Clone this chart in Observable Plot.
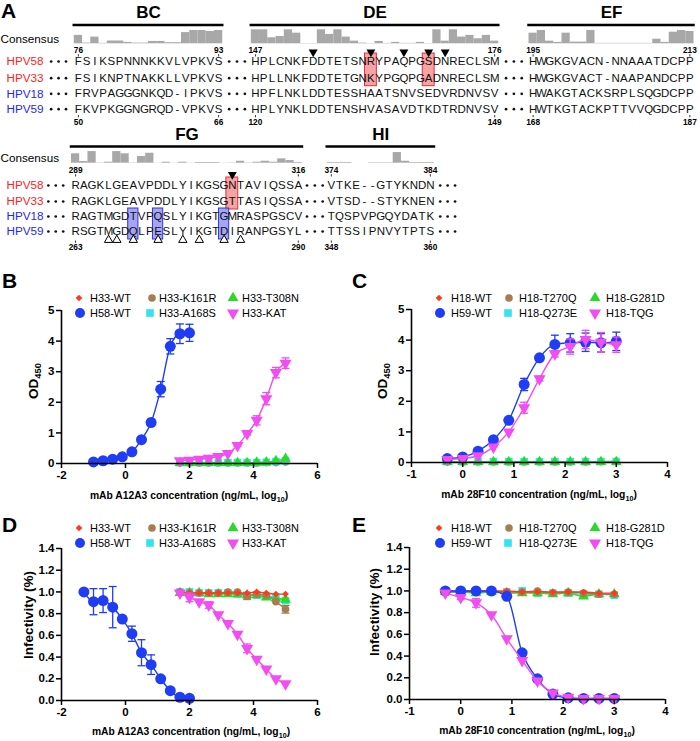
<!DOCTYPE html>
<html><head><meta charset="utf-8">
<script src="https://cdn.jsdelivr.net/npm/d3@7"></script>
<script src="https://cdn.jsdelivr.net/npm/@observablehq/plot@0.6"></script>
<style>
body{margin:0;background:#fff;font-family:"Liberation Sans",Arial,Helvetica,sans-serif;}
#root{position:relative;width:700px;height:741px;overflow:hidden;background:#fff;}
#root svg{position:absolute;}
.plabel{position:absolute;font-weight:bold;font-size:21px;line-height:1;}
.xlab{position:absolute;font-weight:bold;font-size:10.3px;line-height:12px;transform:translateX(-50%);white-space:nowrap;}
.ylab{position:absolute;font-weight:bold;font-size:13.5px;line-height:14px;white-space:nowrap;transform:translate(-50%,-50%) rotate(-90deg);}
.leg{position:absolute;font-size:11px;line-height:14px;white-space:nowrap;}
sub{font-size:70%;vertical-align:-3px;line-height:0;}
</style></head>
<body><div id="root"></div>
<script>
// ================= PANEL A DATA =================
const strains = ["HPV58","HPV33","HPV18","HPV59"];
const regionNames = ["BC","DE","EF","FG","HI"];
const seqBC = ["FSIKSPNNNKKVLVPKVS","FSIKNPTNAKKLLVPKVS","FRVPAGGGNKQD-IPKVS","FKVPKGGNGRQD-VPKVS"];
const seqDE = ["HPLCNKFDDTETSNRYPAQPGSDNRECLSM","HPLLNKFDDTETGNKYPGQPGADNRECLSM","HPFLNKLDDTESSHAATSNVSEDVRDNVSV","HPLYNKLDDTENSHVASAVDTKDTRDNVSV"];
const seqEF = ["HWGKGVACN-NNAAATDCPP","HWGKGVACT-NAAPANDCPP","HWAKGTACKSRPLSQGDCPP","HWTKGTACKPTTVVQGDCPP"];
const seqFG = ["RAGKLGEAVPDDLYIKGSGNTAVIQSSA","RAGKLGEAVPDDLYIKGSGTTASIQSSA","RAGTMGDTVPQSLYIKGTGMRASPGSCV","RSGTMGDQLPESLYIKGTDIRANPGSYL"];
const seqHI = ["VTKE--GTYKNDN","VTSD--STYKNEN","TQSPVPGQYDATK","TTSSIPNVYTPTS"];
const consBC = [0.6,0.05,0.48,0.03,0.2,0.2,0.1,0.05,0.05,0.17,0.17,0.08,0.08,0.8,0.95,0.95,0.88,0.95];
const consDE = [1,1,0.43,0.52,1,0.76,0.02,0.02,1,0.67,1,0.48,0.19,0.05,0.02,0.17,0.03,0.1,0.03,0.03,0.1,0.02,1,0.19,1,0.48,0.6,0.36,0.6,0.19];
const consEF = [0.76,0.95,0.19,0.1,0.76,0.12,0.12,0.95,0.03,0.03,0.03,0.03,0.03,0.03,0.03,0.33,0.1,0.83,0.95,0.88];
const consFG = [0.67,0.12,0.83,0.02,0.07,0.83,0.67,0.02,0.48,0.71,0.01,0.07,0.01,0.07,0.01,0.05,0.05,0.05,0.01,0.02,0.14,0.02,0.07,0.14,0.07,0.31,0.19,0.05];
const consHI = [0.05,0.05,0.05,0,0,0.03,0.03,0.03,0.76,0.14,0.05,0.05,0.05];
const topNums = [[76,93],[147,176],[195,213],[289,316],[374,384]];
const botNums = [[50,66],[120,149],[168,187],[263,290],[348,360]];
const filledMarks = [[],[7,14,18,21,23],[],[19],[]];
const openMarks = [[],[],[],[4,5,7,10,13,15,18,20],[]];
const redCols = [[],[14,21],[],[19],[]];
const blueCols = [[],[],[],[7,10,18],[]];

// ================= PANELS B-E DATA =================
const bH58X = [-1.0,-0.7,-0.4,-0.1,0.2,0.5,0.8,1.1,1.4,1.7,2.0];
const bH58Y = [0.05,0.09,0.14,0.22,0.38,0.78,1.34,2.43,3.83,4.24,4.27];
const bH58E = [0,0,0,0,0,0.04,0.06,0.25,0.25,0.32,0.28];
const bMutX = [1.7,2.0,2.3,2.6,2.9,3.2,3.5,3.8,4.1,4.4,4.7,5.0];
const bWT    = [0.02,0.02,0.02,0.02,0.02,0.02,0.02,0.02,0.02,0.02,0.03,0.04];
const bK161R = [0.02,0.02,0.02,0.02,0.02,0.02,0.02,0.02,0.02,0.03,0.03,0.05];
const bT308N = [0.02,0.02,0.02,0.02,0.02,0.02,0.02,0.02,0.03,0.04,0.08,0.16];
const bA168S = [0.03,0.03,0.03,0.03,0.03,0.03,0.03,0.03,0.03,0.04,0.06,0.09];
const bKAT   = [0.09,0.11,0.14,0.17,0.23,0.33,0.59,0.98,1.41,2.12,2.97,3.28];
const bKATE  = [0,0,0,0,0,0,0.04,0.05,0.15,0.2,0.17,0.17];

const cX = [-0.3,0,0.3,0.6,0.9,1.2,1.5,1.8,2.1,2.4,2.7,3.0];
const cWT    = [0.02,0.02,0.02,0.02,0.02,0.02,0.02,0.02,0.02,0.02,0.02,0.02];
const cH59   = [0.13,0.18,0.37,0.74,1.38,2.55,3.42,3.86,3.91,3.93,3.91,3.96];
const cH59E  = [0,0,0,0,0.05,0.2,0.05,0.3,0.3,0.3,0.3,0.3];
const cT270Q = [0.02,0.02,0.02,0.02,0.02,0.02,0.02,0.02,0.02,0.02,0.03,0.04];
const cQ273E = [0.03,0.03,0.03,0.03,0.03,0.03,0.03,0.03,0.03,0.03,0.03,0.03];
const cG281D = [0.02,0.02,0.02,0.02,0.02,0.02,0.02,0.02,0.02,0.02,0.02,0.02];
const cTQG   = [0.1,0.13,0.22,0.51,1.0,1.79,2.74,3.55,3.79,4.02,3.93,3.85];
const cTQGE  = [0,0,0,0,0,0.18,0.08,0.1,0.25,0.3,0.32,0.25];

const dH58X = [-1.3,-1.0,-0.7,-0.4,-0.1,0.2,0.5,0.8,1.1,1.4,1.7,2.0];
const dH58Y = [1.0,0.91,0.92,0.86,0.75,0.615,0.44,0.33,0.2,0.09,0.03,0.02];
const dH58E = [0,0.12,0.11,0.19,0,0.07,0.12,0.09,0,0,0,0];
const dWT    = [1.0,0.99,0.99,0.99,0.99,0.99,0.99,0.99,1.0,0.99,0.98,0.98];
const dK161R = [1.0,0.99,0.99,0.99,0.99,1.0,1.0,0.96,0.98,0.97,0.91,0.84];
const dK161RE= [0,0,0,0,0,0,0,0.03,0,0,0,0.035];
const dT308N = [0.99,0.99,0.99,0.98,0.98,0.98,0.98,0.97,0.97,0.95,0.94,0.93];
const dA168S = [1.0,1.0,0.99,0.99,0.99,0.99,0.98,0.97,0.97,0.96,0.95,0.92];
const dKAT   = [0.99,0.95,0.91,0.88,0.79,0.71,0.61,0.48,0.38,0.29,0.2,0.155];
const dKATE  = [0,0.04,0,0.03,0,0,0,0.04,0,0,0,0];

const eWT    = [0.99,1.0,1.0,1.0,1.0,0.99,0.99,0.99,0.99,0.99,0.98,0.98];
const eT270Q = [1.0,0.99,1.0,0.99,0.99,0.99,1.0,0.98,0.99,0.98,0.97,0.97];
const eG281D = [0.99,0.99,0.98,0.99,0.98,0.98,0.98,0.97,0.98,0.95,0.97,0.97];
const eQ273E = [0.99,0.99,0.99,0.99,0.99,1.0,0.98,0.98,0.98,0.97,0.97,0.96];
const eH59   = [1.0,1.0,1.0,1.0,0.95,0.43,0.19,0.05,0.015,0.01,0.01,0.01];
const eTQG   = [0.98,0.94,0.89,0.78,0.56,0.36,0.17,0.06,0.02,0.01,0.01,0.01];
const eTQGE  = [0,0.02,0.04,0,0,0,0,0,0,0,0,0];

const legendB = [["H33-WT","H33-K161R","H33-T308N"],["H58-WT","H33-A168S","H33-KAT"]];
const legendC = [["H18-WT","H18-T270Q","H18-G281D"],["H59-WT","H18-Q273E","H18-TQG"]];

// ================= STYLES / LAYOUT =================
const FONT = '"Liberation Sans", Arial, Helvetica, sans-serif';
const root = document.getElementById("root");
const triDown = {draw(ctx, size){ const s3=Math.sqrt(3); const y=-Math.sqrt(size/(s3*3)); ctx.moveTo(0,-y*2); ctx.lineTo(-s3*y,y); ctx.lineTo(s3*y,y); ctx.closePath(); }};
const capSym = {draw(ctx, size){ const w=Math.sqrt(size)/2; ctx.moveTo(-w,0); ctx.lineTo(w,0); }};
const SER = {
  wt:{color:"#ff3a1c",symbol:"diamond2",r:3},
  m1:{color:"#a67c52",symbol:"circle",r:3.8},
  m3:{color:"#27dc27",symbol:"triangle",r:4},
  ref:{color:"#1f3df5",symbol:"circle",r:5.5},
  m2:{color:"#33e3ef",symbol:"square",r:4.3},
  tri:{color:"#f24df0",symbol:triDown,r:4.5}
};
const strainColor = ["#ff2222","#ff2222","#2525ff","#2525ff"];

function place(el, left, top){ el.style.left = left+"px"; el.style.top = top+"px"; root.appendChild(el); return el; }
function div(cls, html){ const d=document.createElement("div"); d.className=cls; d.innerHTML=html; return d; }

// ================= PANEL A =================
const PITCH = 8.25;
const blockPlace = [{g:0,s:9.44},{g:0,s:30.9},{g:0,s:64.56},{g:1,s:9.1},{g:1,s:40.1}];
const G = [
  {title:12, line:24.5, base:43.3, cons:38.3, num:50, tri:51.5, rows:[61,77.7,93.3,108.7], bnum:121.5, otri:null},
  {title:134, line:146, base:162.7, cons:157.3, num:170, tri:174, rows:[185,201,216,231], bnum:247, otri:239.5}
];
const blockSeqs = [seqBC,seqDE,seqEF,seqFG,seqHI];
const blockCons = [consBC,consDE,consEF,consFG,consHI];
const letters=[], bars=[], lines=[], titles=[], nums=[], ticks=[], fTri=[], oTri=[], rBox=[], bBox=[], dots=[], labels=[];
regionNames.forEach((name,b)=>{
  const p=blockPlace[b], g=G[p.g], seqs=blockSeqs[b], n=seqs[0].length, end=p.s+n-1;
  titles.push({x:(p.s+end)/2, y:g.title, t:name});
  lines.push({x1:p.s-0.65, x2:end+0.65, y:g.line});
  blockCons[b].forEach((v,i)=>bars.push({x1:p.s+i-0.5, x2:p.s+i+0.5, y1:g.base, y2:g.base-v*14}));
  seqs.forEach((s,r)=>[...s].forEach((c,i)=>letters.push({x:p.s+i, y:g.rows[r], c})));
  [p.s,end].forEach((x,k)=>{
    nums.push({x, y:g.num, t:String(topNums[b][k])});
    ticks.push({x, y1:g.num+4.2, y2:g.num+6.5});
    nums.push({x, y:g.bnum, t:String(botNums[b][k])});
    ticks.push({x, y1:g.bnum-6.5, y2:g.bnum-4.2});
  });
  filledMarks[b].forEach(i=>fTri.push({x:p.s+i, y:g.tri}));
  openMarks[b].forEach(i=>oTri.push({x:p.s+i, y:g.otri}));
  redCols[b].forEach(i=>rBox.push({x1:p.s+i-0.72, x2:p.s+i+0.72, y1:g.rows[0]-8, y2:g.rows[1]+8}));
  blueCols[b].forEach(i=>bBox.push({x1:p.s+i-0.62, x2:p.s+i+0.62, y1:g.rows[2]-8, y2:g.rows[3]+8}));
});
G.forEach((g,gi)=>{
  labels.push({x:0, y:g.cons, t:"Consensus", fill:"#000"});
  strains.forEach((s,r)=>labels.push({x:0.72, y:g.rows[r], t:s, fill:strainColor[r]}));
  const blks = regionNames.map((n,b)=>({b,s:blockPlace[b].s,e:blockPlace[b].s+blockSeqs[b][0].length-1,g:blockPlace[b].g})).filter(d=>d.g===gi);
  const dotXs = [];
  dotXs.push(blks[0].s-3.3, blks[0].s-2.4, blks[0].s-1.5);
  for(let k=0;k<blks.length-1;k++){ const m=(blks[k].e+blks[k+1].s)/2; dotXs.push(m-0.95,m,m+0.95); }
  if(gi===1){ const e=blks[blks.length-1].e; dotXs.push(e+1.2,e+2.1,e+3.0); }
  g.rows.forEach(y=>dotXs.forEach(x=>dots.push({x,y})));
});

const plotA = Plot.plot({
  width:700, height:256, marginTop:0, marginBottom:0, marginLeft:0, marginRight:0,
  x:{domain:[0,700/PITCH], range:[0,700], axis:null},
  y:{domain:[0,256], range:[0,256], axis:null},
  style:{fontFamily:FONT, background:"transparent", overflow:"visible"},
  marks:[
    Plot.rect(bars,{x1:"x1",x2:"x2",y1:"y1",y2:"y2",fill:"#a8a8a8"}),
    Plot.ruleY(lines,{x1:"x1",x2:"x2",y:"y",stroke:"#000",strokeWidth:2.3}),
    Plot.text(titles,{x:"x",y:"y",text:"t",fontSize:17,fontWeight:"bold",fill:"#000"}),
    Plot.rect(rBox,{x1:"x1",x2:"x2",y1:"y1",y2:"y2",fill:"#f28c8c",fillOpacity:0.8,stroke:"#e52f3a",strokeWidth:1}),
    Plot.rect(bBox,{x1:"x1",x2:"x2",y1:"y1",y2:"y2",fill:"#8e8ef2",fillOpacity:0.8,stroke:"#3535d8",strokeWidth:1}),
    Plot.text(letters,{x:"x",y:"y",text:"c",fontSize:11.5,fill:"#111"}),
    Plot.text(labels,{x:"x",y:"y",text:"t",fill:"fill",textAnchor:"start",fontSize:11.7}),
    Plot.dot(dots,{x:"x",y:"y",r:1.35,fill:"#111"}),
    Plot.text(nums,{x:"x",y:"y",text:"t",fontSize:8.3,fontWeight:"bold",fontFamily:'"Liberation Sans Narrow","Arial Narrow",'+FONT,fill:"#000"}),
    Plot.ruleX(ticks,{x:"x",y1:"y1",y2:"y2",stroke:"#000",strokeWidth:0.8}),
    Plot.dot(fTri,{x:"x",y:"y",symbol:triDown,r:3.3,fill:"#000"}),
    Plot.dot(oTri,{x:"x",y:"y",symbol:"triangle",r:3.1,stroke:"#000",fill:"#fff",strokeWidth:1})
  ]
});
place(plotA,0,0);

// ================= PANELS B-E =================
const panels = [
  {letter:"B", left:0, top:285, height:230, x:[-2,6], xticks:[-2,0,2,4,6], y:[0,5], yticks:[0,1,2,3,4,5], yfmt:d=>String(d),
   m:[25,33,52,61], ylab:[34,381,'OD<sub>450</sub>'], xlab:[189,489.5,'mAb A12A3 concentration (ng/mL, log<sub>10</sub>)'],
   legend:legendB, mx:[[79,152,233],[80,150,233]], tx:[90,159,242],
   series:[{k:"wt",x:bMutX,y:bWT},{k:"m1",x:bMutX,y:bK161R},{k:"m2",x:bMutX,y:bA168S},{k:"m3",x:bMutX,y:bT308N},{k:"ref",x:bH58X,y:bH58Y,e:bH58E},{k:"tri",x:bMutX,y:bKAT,e:bKATE}]},
  {letter:"C", left:350, top:285, height:230, x:[-1,4], xticks:[-1,0,1,2,3,4], y:[0,5], yticks:[0,1,2,3,4,5], yfmt:d=>String(d),
   m:[24,33,53,61], ylab:[383,381,'OD<sub>450</sub>'], xlab:[539,489,'mAb 28F10 concentration (ng/mL, log<sub>10</sub>)'],
   legend:legendC, mx:[[89,159,245],[90,158,245]], tx:[101,169,256],
   series:[{k:"wt",x:cX,y:cWT},{k:"m1",x:cX,y:cT270Q},{k:"m2",x:cX,y:cQ273E},{k:"m3",x:cX,y:cG281D},{k:"ref",x:cX,y:cH59,e:cH59E},{k:"tri",x:cX,y:cTQG,e:cTQGE}]},
  {letter:"D", left:0, top:515, height:226, x:[-2,6], xticks:[-2,0,2,4,6], y:[0,1.4], yticks:[0,0.2,0.4,0.6,0.8,1.0,1.2,1.4], yfmt:d3.format(".1f"),
   m:[33,33,41,61], ylab:[29,615,'Infectivity (%)'], xlab:[191,726,'mAb A12A3 concentration (ng/mL, log<sub>10</sub>)'],
   legend:legendB, mx:[[79,152,233],[80,150,233]], tx:[90,159,242],
   series:[{k:"m2",x:bMutX,y:dA168S},{k:"m3",x:bMutX,y:dT308N},{k:"m1",x:bMutX,y:dK161R,e:dK161RE},{k:"wt",x:bMutX,y:dWT},{k:"ref",x:dH58X,y:dH58Y,e:dH58E},{k:"tri",x:bMutX,y:dKAT,e:dKATE}]},
  {letter:"E", left:350, top:515, height:226, x:[-1,4], xticks:[-1,0,1,2,3,4], y:[0,1.4], yticks:[0,0.2,0.4,0.6,0.8,1.0,1.2,1.4], yfmt:d3.format(".1f"),
   m:[32,35,42,59], ylab:[375,612,'Infectivity (%)'], xlab:[537,725,'mAb 28F10 concentration (ng/mL, log<sub>10</sub>)'],
   legend:legendC, mx:[[89,159,245],[90,158,245]], tx:[101,169,256],
   series:[{k:"m2",x:cX,y:eQ273E},{k:"m3",x:cX,y:eG281D},{k:"m1",x:cX,y:eT270Q},{k:"wt",x:cX,y:eWT},{k:"ref",x:cX,y:eH59},{k:"tri",x:cX,y:eTQG,e:eTQGE}]}
];
const legendKeys = [["wt","m1","m3"],["ref","m2","tri"]];

function symPath(symbol, r){
  const t = typeof symbol === "string" ? {circle:d3.symbolCircle, square:d3.symbolSquare, triangle:d3.symbolTriangle, diamond2:d3.symbolDiamond2}[symbol] : symbol;
  return d3.symbol(t, Math.PI*r*r)();
}

panels.forEach(P=>{
  const marks = [];
  P.series.forEach(s=>{
    const st = SER[s.k];
    const data = s.x.map((x,i)=>({x, y:s.y[i], e:s.e ? s.e[i] : 0}));
    const eb = data.filter(d=>d.e>0);
    marks.push(Plot.line(data,{x:"x",y:"y",stroke:st.color,strokeWidth:1.4,curve:"monotone-x"}));
    marks.push(Plot.ruleX(eb,{x:"x",y1:d=>d.y-d.e,y2:d=>d.y+d.e,stroke:st.color,strokeWidth:1.3}));
    marks.push(Plot.dot(eb,{x:"x",y:d=>d.y+d.e,symbol:capSym,r:4.5,stroke:st.color,fill:"none",strokeWidth:1.3}));
    marks.push(Plot.dot(eb,{x:"x",y:d=>d.y-d.e,symbol:capSym,r:4.5,stroke:st.color,fill:"none",strokeWidth:1.3}));
    marks.push(Plot.dot(data,{x:"x",y:"y",symbol:st.symbol,r:st.r,fill:st.color,stroke:"none"}));
  });
  marks.push(Plot.ruleY([P.y[0]],{stroke:"#000",strokeWidth:1.6}));
  marks.push(Plot.ruleX([P.x[0]],{stroke:"#000",strokeWidth:1.6}));
  marks.push(Plot.axisX({ticks:P.xticks, tickFormat:d=>String(d), tickSize:5, tickPadding:2, strokeWidth:1.5, label:null, fontSize:11.5, fontWeight:"bold", fill:"#000"}));
  marks.push(Plot.axisY({ticks:P.yticks, tickFormat:P.yfmt, tickSize:5, tickPadding:2, strokeWidth:1.5, label:null, fontSize:11.5, fontWeight:"bold", fill:"#000"}));
  const svg = Plot.plot({
    width:350, height:P.height, marginTop:P.m[0], marginRight:P.m[1], marginBottom:P.m[2], marginLeft:P.m[3],
    x:{domain:P.x}, y:{domain:P.y},
    style:{fontFamily:FONT, fontSize:"11.5px", fontWeight:"bold", background:"transparent", overflow:"visible", color:"#000"},
    marks
  });
  place(svg, P.left, P.top);
  place(div("plabel", P.letter), P.left + 2, P.top - (P.top===285 ? 15 : 1));
  place(div("ylab", P.ylab[2]), P.ylab[0], P.ylab[1]);
  place(div("xlab", P.xlab[2]), P.xlab[0], P.xlab[1]);
  [12.5, 27.5].forEach((ry,row)=>{
    legendKeys[row].forEach((k,c)=>{
      const st = SER[k];
      const sv = document.createElementNS("http://www.w3.org/2000/svg","svg");
      sv.setAttribute("width",14); sv.setAttribute("height",14); sv.setAttribute("viewBox","-7 -7 14 14");
      sv.innerHTML = `<path d="${symPath(st.symbol, Math.min(st.r,5))}" fill="${st.color}"/>`;
      place(sv, P.left + P.mx[row][c] - 7, P.top + ry - 7);
      place(div("leg", P.legend[row][c]), P.left + P.tx[c], P.top + ry - 7);
    });
  });
});
place(div("plabel","A"), 1, 0);
</script>
</body></html>
